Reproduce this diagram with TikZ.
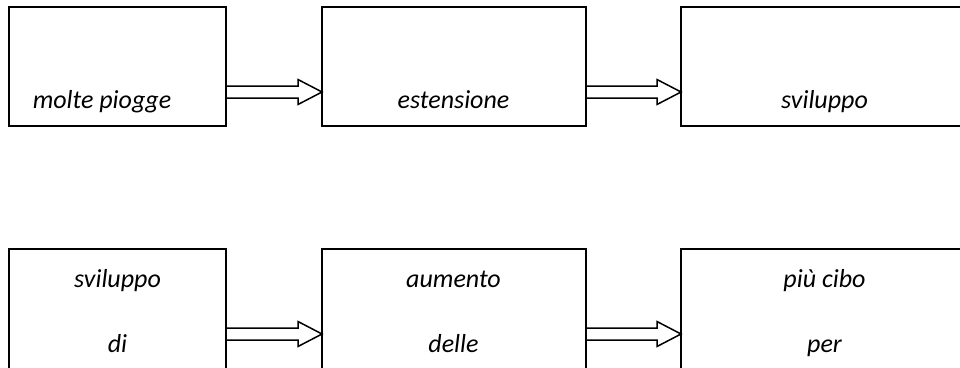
\documentclass[tikz,border=0pt]{standalone}
\usepackage{fontspec}
\setmainfont{Carlito}
\usetikzlibrary{positioning,calc}
\tikzset{>=stealth}
\tikzset{
  stagebox/.style={draw, line width=1.5pt, outer sep=0pt, inner sep=0pt,
    minimum height=119pt},
  stagetext/.style={anchor=base, inner sep=0pt,
    font=\fontsize{26}{30}\selectfont\itshape},
  arrowline/.style={line width=1.5pt, line join=miter}
}
% hollow block arrow: from box, to box, shift below the box centres
\newcommand{\flowarrow}[3]{%
  \draw[arrowline] ($(#1.east)+(0,#3-6)$) -- ($(#2.west)+(-24,#3-6)$)
    -- ($(#2.west)+(-24,#3-12.5)$) -- ($(#2.west)+(0,#3)$)
    -- ($(#2.west)+(-24,#3+12.5)$) -- ($(#2.west)+(-24,#3+6)$)
    -- ($(#1.east)+(0,#3+6)$);}

\begin{document}
\begin{tikzpicture}[x=1pt, y=-1pt]
\useasboundingbox (0,0) rectangle (960,367);
% top row
\node[stagebox, minimum width=217pt] (piogge) at (117.5,66.5) {};
\node[stagebox, minimum width=264pt, right=96pt of piogge] (estens) {};
\node[stagebox, minimum width=287pt, right=95pt of estens] (svil) {};
% bottom row
\node[stagebox, minimum width=217pt, minimum height=125pt,
  below=123pt of piogge] (svildi) {};
\node[stagebox, minimum width=264pt, minimum height=125pt,
  right=96pt of svildi] (aumento) {};
\node[stagebox, minimum width=287pt, minimum height=125pt,
  right=95pt of aumento] (cibo) {};

\flowarrow{piogge}{estens}{25.5}
\flowarrow{estens}{svil}{25.5}
\flowarrow{svildi}{aumento}{22.5}
\flowarrow{aumento}{cibo}{22.5}

% texts
\node[stagetext] (t1) at (102,108) {molte piogge};
\node[stagetext] (t2) at (453.5,108) {estensione};
\node[stagetext] (t3) at (824.5,108) {sviluppo};
\node[stagetext] (t4) at (117.5,287) {sviluppo};
\node[stagetext] (t5) at (117.5,352) {di};
\node[stagetext] (t6) at (453.5,287) {aumento};
\node[stagetext] (t7) at (453.5,352) {delle};
\node[stagetext] (t8) at (824.5,287) {più cibo};
\node[stagetext] (t9) at (824.5,352) {per};
\end{tikzpicture}
\end{document}
